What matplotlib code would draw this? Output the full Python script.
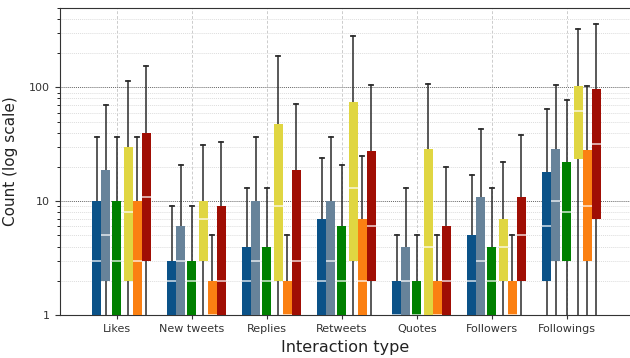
import numpy as np
import matplotlib.pyplot as plt

# interaction categories along the x axis
categories = ["Likes", "New tweets", "Replies", "Retweets", "Quotes",
              "Followers", "Followings"]

# one series per account group, drawn side by side in every category
series_colors = ["#0b5288", "#67839a", "#008000", "#e0d642", "#fb8012", "#a00e04"]

# box statistics per series: [category] -> value
q1 = [
    [1, 1, 1, 1, 1, 1, 2],
    [2, 1, 1, 1, 1, 1, 3],
    [1, 1, 1, 1, 1, 1, 3],
    [2, 3, 2, 3, 1, 2, 23.5],
    [1, 1, 1, 1, 1, 1, 3],
    [3, 1, 1, 2, 1, 2, 7],
]
med = [
    [3, 2, 2, 2, 1, 2, 6],
    [5, 3, 3, 3, 2, 3, 10],
    [3, 2, 2, 2, 1, 2, 8],
    [8, 7, 9, 13, 4, 4, 62],
    [3, 1, 1, 2, 1, 1, 9],
    [11, 2, 3, 6, 2, 5, 32],
]
q3 = [
    [10, 3, 4, 7, 2, 5, 18],
    [19, 6, 10, 10, 4, 11, 28.5],
    [10, 3, 4, 6, 2, 4, 22],
    [30, 10, 48, 74, 28.5, 7, 102],
    [10, 2, 2, 7, 2, 2, 28],
    [40, 9, 19, 27.5, 6, 11, 96],
]
whishi = [
    [37, 9, 13, 24, 5, 17, 65],
    [70, 21, 37, 37, 13, 43, 106],
    [37, 9, 13, 21, 5, 13, 78],
    [114, 31, 188, 285, 107, 22, 323],
    [37, 5, 5, 25, 5, 5, 102],
    [155, 33, 72, 105, 20, 38, 362],
]
# lower whiskers reach zero counts, below the bottom of the log axis
whislo = 0.5

offsets = [-0.267, -0.147, 0.0, 0.147, 0.267, 0.387]
box_w = 0.12

fig = plt.figure(figsize=(6.3, 3.58), dpi=100)
ax = fig.add_axes([0.0952, 0.12, 0.9048, 0.858])
ax.set_yscale("log")

x = np.arange(len(categories))
for s in range(len(series_colors)):
    stats = []
    for c in range(len(categories)):
        stats.append(dict(q1=q1[s][c], med=med[s][c], q3=q3[s][c],
                          whislo=whislo, whishi=whishi[s][c], fliers=[]))
    ax.bxp(stats, positions=x + offsets[s], widths=box_w,
           patch_artist=True, showfliers=False, manage_ticks=False,
           capwidths=0.06,
           boxprops=dict(facecolor=series_colors[s], edgecolor="none",
                         linewidth=0, zorder=3),
           medianprops=dict(color="white", alpha=0.7, linewidth=1.3, zorder=4),
           whiskerprops=dict(color="#2b2b2b", linewidth=1.1, zorder=2),
           capprops=dict(color="#2b2b2b", linewidth=1.3, zorder=2))

ax.set_xlim(-0.76, 6.84)
ax.set_ylim(1, 500)
ax.set_xticks(x)
ax.set_xticklabels(categories)
ax.set_yticks([1, 10, 100])
ax.set_yticklabels(["1", "10", "100"])
ax.tick_params(axis="both", labelsize=8, labelcolor="#333333", colors="#333333")
ax.tick_params(axis="y", which="minor", length=2)
ax.tick_params(axis="x", length=3)

ax.grid(axis="x", color="#cccccc", linestyle=(0, (3, 2)), linewidth=0.7, zorder=0)
ax.grid(axis="y", which="major", color="#666666", linestyle=(0, (1, 1)),
        linewidth=0.7, zorder=0)
ax.grid(axis="y", which="minor", color="#dddddd", linestyle=(0, (1, 1)),
        linewidth=0.7, zorder=0)
ax.set_axisbelow(True)

ax.spines["right"].set_visible(False)
for side in ["left", "bottom", "top"]:
    ax.spines[side].set_color("#333333")

ax.set_xlabel("Interaction type", fontsize=11.5, color="#222222", labelpad=4)
ax.set_ylabel("Count (log scale)", fontsize=11, color="#222222", labelpad=8)

fig.savefig("out.png", dpi=100)
